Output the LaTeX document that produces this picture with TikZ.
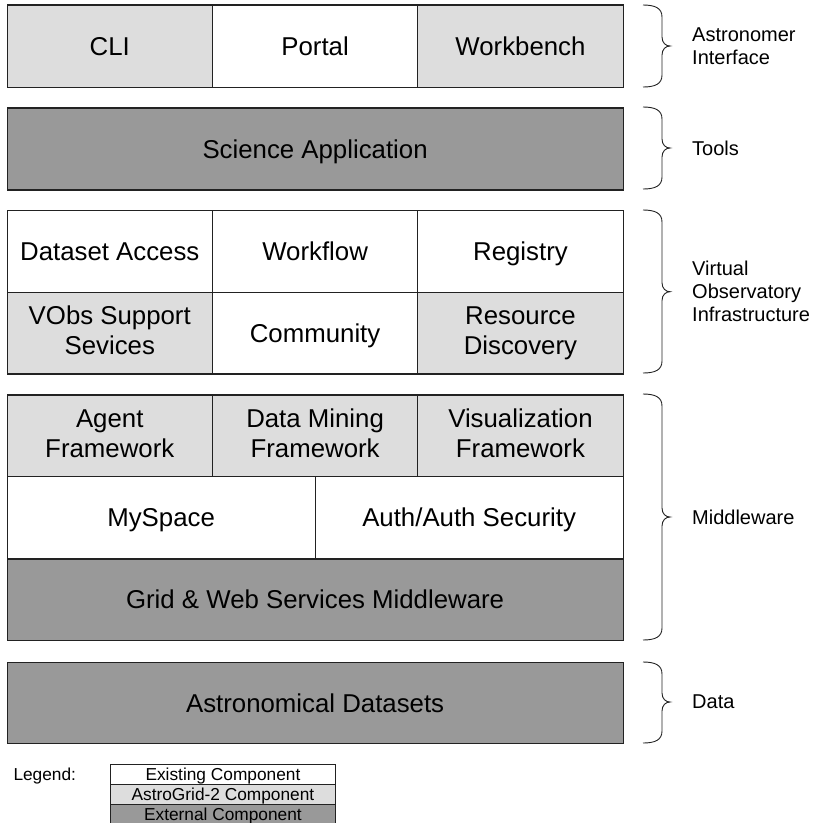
\documentclass[tikz,border=0pt]{standalone}
\usepackage{fontspec}
\setmainfont{Liberation Sans}
\definecolor{lg}{HTML}{DDDDDD}
\definecolor{dg}{HTML}{999999}
\definecolor{ln}{HTML}{222222}
\newcommand\ls{\rule[-0.2em]{0pt}{1.116em}}
\tikzset{
  cell/.style={draw=ln, line width=1.2pt, anchor=north west, inner sep=0pt,
    align=center, text=black, font=\fontsize{25.8}{30}\selectfont,
    execute at begin node=\ls},
  existing/.style={cell, fill=white},
  ag/.style={cell, fill=lg},
  ext/.style={cell, fill=dg},
  grplabel/.style={anchor=west, align=left, inner sep=0pt, text=black,
    font=\fontsize{20}{23}\selectfont},
  bracestyle/.style={draw=ln, line width=0.9pt},
  legcell/.style={draw=ln, line width=0.9pt, anchor=north west, inner sep=0pt,
    minimum width=225pt, minimum height=20pt, text=black,
    font=\fontsize{17.3}{20}\selectfont, execute at begin node=\ls},
}
\newcommand\grpbrace[3]{%
  \draw[bracestyle] (643,#1) .. controls (655,#1) and (662,{#1+3}) .. (662,{#1+12})
    -- (662,{#3-9}) .. controls (662,{#3-3}) and (666,#3) .. (670,#3)
    .. controls (666,#3) and (662,{#3+3}) .. (662,{#3+9})
    -- (662,{#2-12}) .. controls (662,{#2-3}) and (655,#2) .. (643,#2);}
\begin{document}
\begin{tikzpicture}[x=1pt,y=-1pt]
\useasboundingbox (0,0) rectangle (813,823);
% Astronomer interface
\node[ag, minimum width=205.3pt, minimum height=82.4pt] (cli) at (6.5,4.3) {CLI};
\node[existing, minimum width=205.4pt, minimum height=82.4pt] (portal) at (211.8,4.3) {Portal};
\node[ag, minimum width=205.3pt, minimum height=82.4pt] (workbench) at (417.2,4.3) {Workbench};
% Tools
\node[ext, minimum width=616pt, minimum height=82pt] (sci) at (6.5,107.3) {Science Application};
% VO infrastructure
\node[existing, minimum width=205.3pt, minimum height=81.7pt] (dsa) at (6.5,210) {Dataset Access};
\node[existing, minimum width=205.4pt, minimum height=81.7pt] (wf) at (211.8,210) {Workflow};
\node[existing, minimum width=205.3pt, minimum height=81.7pt] (reg) at (417.2,210) {Registry};
\node[ag, minimum width=205.3pt, minimum height=81.6pt] (vobs) at (6.5,291.7) {VObs Support\\\ls Sevices};
\node[existing, minimum width=205.4pt, minimum height=81.6pt] (comm) at (211.8,291.7) {Community};
\node[ag, minimum width=205.3pt, minimum height=81.6pt] (rd) at (417.2,291.7) {Resource\\\ls Discovery};
% Middleware
\node[ag, minimum width=205.3pt, minimum height=81.7pt] (agent) at (6.5,394.3) {Agent\\\ls Framework};
\node[ag, minimum width=205.4pt, minimum height=81.7pt] (dm) at (211.8,394.3) {Data Mining\\\ls Framework};
\node[ag, minimum width=205.3pt, minimum height=81.7pt] (vis) at (417.2,394.3) {Visualization\\\ls Framework};
\node[existing, minimum width=308pt, minimum height=82.3pt] (mys) at (6.5,476) {MySpace};
\node[existing, minimum width=308pt, minimum height=82.3pt] (auth) at (314.5,476) {Auth/Auth Security};
\node[ext, minimum width=616pt, minimum height=81.7pt] (grid) at (6.5,558.3) {Grid \& Web Services Middleware};
% Data
\node[ext, minimum width=616pt, minimum height=81pt] (astro) at (6.5,661.7) {Astronomical Datasets};
% Braces and labels
\grpbrace{5}{87}{46}
\node[grplabel] (lai) at (692,46) {Astronomer\\Interface};
\grpbrace{107}{189}{148}
\node[grplabel] (ltools) at (692,148) {Tools};
\grpbrace{210}{373}{291.7}
\node[grplabel] (lvo) at (692,291.7) {Virtual\\Observatory\\Infrastructure};
\grpbrace{394}{640}{517}
\node[grplabel] (lmw) at (692,517) {Middleware};
\grpbrace{662}{743}{702}
\node[grplabel] (ldata) at (692,702) {Data};
% Legend
\node[anchor=base west, inner sep=0pt, text=black, font=\fontsize{17.3}{20}\selectfont] (leg) at (13.3,780) {Legend:};
\node[legcell, fill=white] (l1) at (110,764) {Existing Component};
\node[legcell, fill=lg] (l2) at (110,784) {AstroGrid-2 Component};
\node[legcell, fill=dg] (l3) at (110,804) {External Component};
\end{tikzpicture}
\end{document}
